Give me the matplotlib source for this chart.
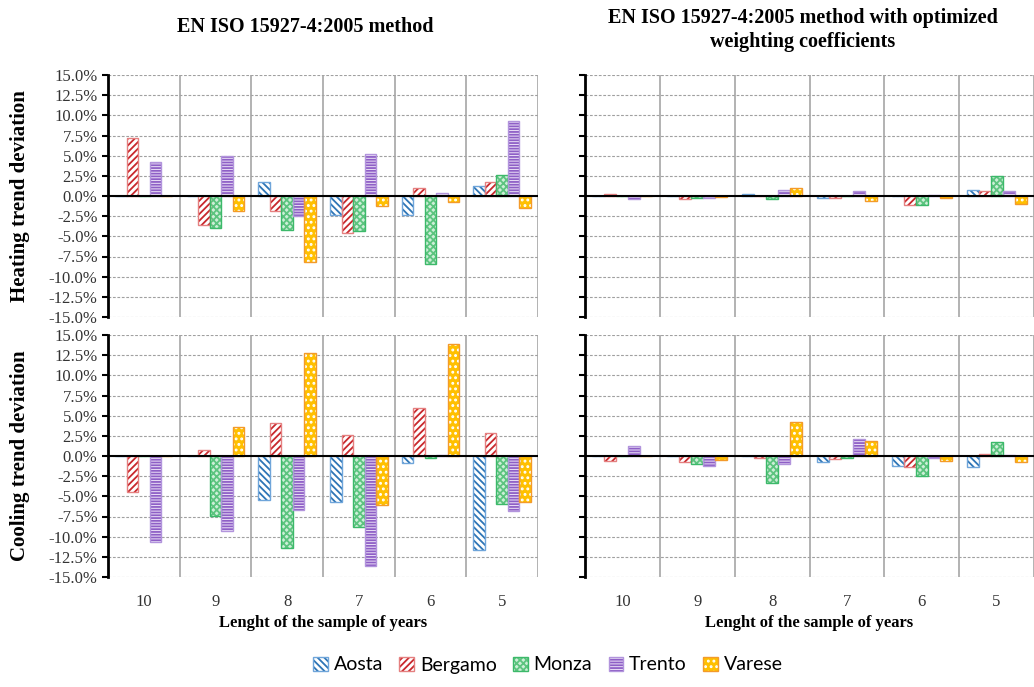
import numpy as np
import matplotlib
matplotlib.use('Agg')
import matplotlib.pyplot as plt
from matplotlib.patches import Patch
from matplotlib.legend_handler import HandlerTuple
from matplotlib.ticker import FuncFormatter, MultipleLocator

plt.rcParams['hatch.linewidth'] = 1.3

groups = ['10', '9', '8', '7', '6', '5']
cities = ['Aosta', 'Bergamo', 'Monza', 'Trento', 'Varese']

# heating trend deviation (%), standard method
heat_std = {
    'Aosta':   [0.0, 0.0, 1.7, -2.4, -2.3, 1.2],
    'Bergamo': [7.2, -3.6, -1.9, -4.6, 1.0, 1.7],
    'Monza':   [0.0, -4.0, -4.2, -4.4, -8.4, 2.6],
    'Trento':  [4.2, 5.0, -2.5, 5.2, 0.4, 9.3],
    'Varese':  [0.0, -1.9, -8.2, -1.3, -0.8, -1.5],
}
# cooling trend deviation (%), standard method
cool_std = {
    'Aosta':   [0.0, 0.0, -5.4, -5.7, -0.9, -11.6],
    'Bergamo': [-4.5, 0.7, 4.1, 2.6, 5.9, 2.8],
    'Monza':   [0.0, -7.4, -11.4, -8.8, -0.3, -5.9],
    'Trento':  [-10.7, -9.3, -6.7, -13.6, 0.1, -6.8],
    'Varese':  [0.0, 3.6, 12.8, -6.1, 13.9, -5.7],
}
# heating, optimized weighting coefficients
heat_opt = {
    'Aosta':   [0.0, 0.0, 0.2, -0.3, 0.0, 0.8],
    'Bergamo': [0.3, -0.4, 0.0, -0.3, -1.1, 0.6],
    'Monza':   [0.0, -0.2, -0.4, 0.0, -1.1, 2.5],
    'Trento':  [-0.4, -0.3, 0.8, 0.6, 0.1, 0.6],
    'Varese':  [0.0, -0.1, 1.0, -0.6, -0.2, -1.0],
}
# cooling, optimized weighting coefficients
cool_opt = {
    'Aosta':   [0.0, 0.0, 0.0, -0.7, -1.3, -1.4],
    'Bergamo': [-0.6, -0.8, -0.3, -0.4, -1.4, 0.3],
    'Monza':   [0.0, -1.0, -3.4, -0.2, -2.5, 1.7],
    'Trento':  [1.3, -1.2, -1.0, 2.1, -0.3, 0.1],
    'Varese':  [0.0, -0.5, 4.2, 1.8, -0.6, -0.8],
}

# face colour, hatch colour, hatch, outline colour
styles = {
    'Aosta':   ('white',   '#2E75B6', '\\\\\\\\\\', '#6FA5DA'),
    'Bergamo': ('white',   '#C8282D', '/////',      '#E58080'),
    'Monza':   ('#CDEFD8', '#5CC47F', 'xxxxx',      '#3CB96A'),
    'Trento':  ('#EDE3F8', '#8E5FC6', '------',     '#B294DC'),
    'Varese':  ('#FFC000', 'white',   '...',        '#F39A2B'),
}

serif = 'Liberation Serif'

fig = plt.figure(figsize=(10.34, 6.87), dpi=100)
W, H = 1034, 687

def px_axes(x0, y0, x1, y1):
    return fig.add_axes([x0 / W, 1 - y1 / H, (x1 - x0) / W, (y1 - y0) / H])

def draw(ax, data, ylabels=True, xlabels=True):
    x = np.arange(len(groups))
    w = 0.16
    for i, c in enumerate(cities):
        face, hc, hatch, edge = styles[c]
        pos = x + (i - 2) * w
        ax.bar(pos, data[c], w, color=face, edgecolor=hc, hatch=hatch, linewidth=0, zorder=3)
        ax.bar(pos, data[c], w, fill=False, edgecolor=edge, linewidth=1.0, zorder=4)
    ax.set_xlim(-0.5, 5.5)
    ax.set_ylim(-15, 15)
    ax.yaxis.set_major_locator(MultipleLocator(2.5))
    for y in np.arange(-15, 15.01, 2.5):
        ax.axhline(y, color='#a0a0a0', lw=0.8, ls=(0, (2.5, 1.5)), zorder=1)
    for b in np.arange(0.5, 5.6, 1):
        ax.axvline(b, color='#a6a6a6', lw=1.2, zorder=1)
    ax.axhline(0, color='black', lw=1.5, zorder=5)
    for s in ['top', 'right', 'bottom']:
        ax.spines[s].set_visible(False)
    ax.spines['left'].set_linewidth(2)
    ax.tick_params(axis='y', length=4, width=1.5, direction='out')
    ax.tick_params(axis='x', length=0)
    ax.set_xticks(x)
    if ylabels:
        ax.yaxis.set_major_formatter(FuncFormatter(lambda v, p: f'{v:.1f}%'))
        for t in ax.get_yticklabels():
            t.set_family(serif)
            t.set_fontsize(12)
            t.set_color('#333333')
    else:
        ax.set_yticklabels([])
    if xlabels:
        ax.set_xticklabels(groups, family=serif, fontsize=12, color='#333333')
        ax.tick_params(axis='x', pad=12)
        ax.set_xlabel('Lenght of the sample of years', family=serif, fontsize=12,
                      fontweight='bold', labelpad=4)
    else:
        ax.set_xticklabels([])

ax1 = px_axes(108, 75, 538, 317)
ax2 = px_axes(108, 335, 538, 577)
ax3 = px_axes(585, 75, 1034, 317)
ax4 = px_axes(585, 335, 1034, 577)

draw(ax1, heat_std, True, False)
draw(ax2, cool_std, True, True)
draw(ax3, heat_opt, False, False)
draw(ax4, cool_opt, False, True)

fig.text(305 / W, 1 - 27 / H, 'EN ISO 15927-4:2005 method', family=serif, fontsize=14.5,
         fontweight='bold', ha='center', va='center')
fig.text(803 / W, 1 - 30 / H, 'EN ISO 15927-4:2005 method with optimized\nweighting coefficients',
         family=serif, fontsize=14.5, fontweight='bold', ha='center', va='center', linespacing=1.2)
fig.text(20 / W, 1 - 196 / H, 'Heating trend deviation', family=serif, fontsize=15,
         fontweight='bold', rotation=90, ha='center', va='center')
fig.text(20 / W, 1 - 456 / H, 'Cooling trend deviation', family=serif, fontsize=15,
         fontweight='bold', rotation=90, ha='center', va='center')

handles = []
for c in cities:
    face, hc, hatch, edge = styles[c]
    handles.append((Patch(facecolor=face, edgecolor=hc, hatch=hatch, linewidth=0),
                    Patch(fill=False, edgecolor=edge, linewidth=1.0)))
fig.legend(handles, cities, handler_map={tuple: HandlerTuple(ndivide=1)},
           loc='center', bbox_to_anchor=(548 / W, 1 - 665 / H), ncol=5, frameon=False,
           prop={'family': 'Lato', 'size': 14}, handlelength=0.75, handleheight=0.75,
           handletextpad=0.3, columnspacing=0.85)

fig.savefig('out.png', dpi=100, facecolor='white')
